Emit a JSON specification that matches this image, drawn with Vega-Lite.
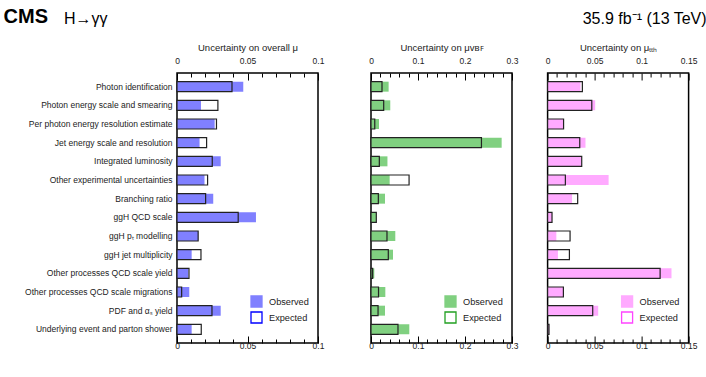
{
  "$schema": "https://vega.github.io/schema/vega-lite/v6.json",
  "padding": {"left": 2, "top": 6, "right": 4, "bottom": 4},
  "config": {
    "font": "Liberation Sans",
    "view": {"stroke": "#000", "strokeWidth": 1.5},
    "axis": {"domain": false, "labelFont": "Liberation Sans", "titleFont": "Liberation Sans", "labelColor": "#222", "titleColor": "#222", "labelFontSize": 8.5, "titleFontSize": 9.5, "titleFontWeight": "normal", "tickColor": "#000", "tickWidth": 1, "grid": false},
    "legend": {"labelFont": "Liberation Sans", "labelFontSize": 9.2, "labelColor": "#222"}
  },
  "datasets": {
    "unc": [
      {"cat": "Photon identification", "panel": "overall", "type": "Observed", "value": 0.047},
      {"cat": "Photon energy scale and smearing", "panel": "overall", "type": "Observed", "value": 0.017},
      {"cat": "Per photon energy resolution estimate", "panel": "overall", "type": "Observed", "value": 0.0267},
      {"cat": "Jet energy scale and resolution", "panel": "overall", "type": "Observed", "value": 0.016},
      {"cat": "Integrated luminosity", "panel": "overall", "type": "Observed", "value": 0.031},
      {"cat": "Other experimental uncertainties", "panel": "overall", "type": "Observed", "value": 0.0195},
      {"cat": "Branching ratio", "panel": "overall", "type": "Observed", "value": 0.0257},
      {"cat": "ggH QCD scale", "panel": "overall", "type": "Observed", "value": 0.056},
      {"cat": "ggH pₜ modelling", "panel": "overall", "type": "Observed", "value": 0.015},
      {"cat": "ggH jet multiplicity", "panel": "overall", "type": "Observed", "value": 0.0104},
      {"cat": "Other processes QCD scale yield", "panel": "overall", "type": "Observed", "value": 0.008},
      {"cat": "Other processes QCD scale migrations", "panel": "overall", "type": "Observed", "value": 0.0087},
      {"cat": "PDF and αₛ yield", "panel": "overall", "type": "Observed", "value": 0.031},
      {"cat": "Underlying event and parton shower", "panel": "overall", "type": "Observed", "value": 0.0104},
      {"cat": "Photon identification", "panel": "overall", "type": "Expected", "value": 0.039},
      {"cat": "Photon energy scale and smearing", "panel": "overall", "type": "Expected", "value": 0.029},
      {"cat": "Per photon energy resolution estimate", "panel": "overall", "type": "Expected", "value": 0.028},
      {"cat": "Jet energy scale and resolution", "panel": "overall", "type": "Expected", "value": 0.021},
      {"cat": "Integrated luminosity", "panel": "overall", "type": "Expected", "value": 0.025},
      {"cat": "Other experimental uncertainties", "panel": "overall", "type": "Expected", "value": 0.0217},
      {"cat": "Branching ratio", "panel": "overall", "type": "Expected", "value": 0.0203},
      {"cat": "ggH QCD scale", "panel": "overall", "type": "Expected", "value": 0.0434},
      {"cat": "ggH pₜ modelling", "panel": "overall", "type": "Expected", "value": 0.015},
      {"cat": "ggH jet multiplicity", "panel": "overall", "type": "Expected", "value": 0.017},
      {"cat": "Other processes QCD scale yield", "panel": "overall", "type": "Expected", "value": 0.0085},
      {"cat": "Other processes QCD scale migrations", "panel": "overall", "type": "Expected", "value": 0.0033},
      {"cat": "PDF and αₛ yield", "panel": "overall", "type": "Expected", "value": 0.0248},
      {"cat": "Underlying event and parton shower", "panel": "overall", "type": "Expected", "value": 0.0172},
      {"cat": "Photon identification", "panel": "VBF", "type": "Observed", "value": 0.0375},
      {"cat": "Photon energy scale and smearing", "panel": "VBF", "type": "Observed", "value": 0.041},
      {"cat": "Per photon energy resolution estimate", "panel": "VBF", "type": "Observed", "value": 0.017},
      {"cat": "Jet energy scale and resolution", "panel": "VBF", "type": "Observed", "value": 0.278},
      {"cat": "Integrated luminosity", "panel": "VBF", "type": "Observed", "value": 0.035},
      {"cat": "Other experimental uncertainties", "panel": "VBF", "type": "Observed", "value": 0.0397},
      {"cat": "Branching ratio", "panel": "VBF", "type": "Observed", "value": 0.0298},
      {"cat": "ggH QCD scale", "panel": "VBF", "type": "Observed", "value": 0.0113},
      {"cat": "ggH pₜ modelling", "panel": "VBF", "type": "Observed", "value": 0.0517},
      {"cat": "ggH jet multiplicity", "panel": "VBF", "type": "Observed", "value": 0.0468},
      {"cat": "Other processes QCD scale yield", "panel": "VBF", "type": "Observed", "value": 0.007},
      {"cat": "Other processes QCD scale migrations", "panel": "VBF", "type": "Observed", "value": 0.0305},
      {"cat": "PDF and αₛ yield", "panel": "VBF", "type": "Observed", "value": 0.0298},
      {"cat": "Underlying event and parton shower", "panel": "VBF", "type": "Observed", "value": 0.0815},
      {"cat": "Photon identification", "panel": "VBF", "type": "Expected", "value": 0.0234},
      {"cat": "Photon energy scale and smearing", "panel": "VBF", "type": "Expected", "value": 0.027},
      {"cat": "Per photon energy resolution estimate", "panel": "VBF", "type": "Expected", "value": 0.008},
      {"cat": "Jet energy scale and resolution", "panel": "VBF", "type": "Expected", "value": 0.235},
      {"cat": "Integrated luminosity", "panel": "VBF", "type": "Expected", "value": 0.0177},
      {"cat": "Other experimental uncertainties", "panel": "VBF", "type": "Expected", "value": 0.081},
      {"cat": "Branching ratio", "panel": "VBF", "type": "Expected", "value": 0.0156},
      {"cat": "ggH QCD scale", "panel": "VBF", "type": "Expected", "value": 0.0113},
      {"cat": "ggH pₜ modelling", "panel": "VBF", "type": "Expected", "value": 0.034},
      {"cat": "ggH jet multiplicity", "panel": "VBF", "type": "Expected", "value": 0.0368},
      {"cat": "Other processes QCD scale yield", "panel": "VBF", "type": "Expected", "value": 0.0035},
      {"cat": "Other processes QCD scale migrations", "panel": "VBF", "type": "Expected", "value": 0.016},
      {"cat": "PDF and αₛ yield", "panel": "VBF", "type": "Expected", "value": 0.015},
      {"cat": "Underlying event and parton shower", "panel": "VBF", "type": "Expected", "value": 0.0574},
      {"cat": "Photon identification", "panel": "ttH", "type": "Observed", "value": 0.035},
      {"cat": "Photon energy scale and smearing", "panel": "ttH", "type": "Observed", "value": 0.0506},
      {"cat": "Per photon energy resolution estimate", "panel": "ttH", "type": "Observed", "value": 0.0164},
      {"cat": "Jet energy scale and resolution", "panel": "ttH", "type": "Observed", "value": 0.0403},
      {"cat": "Integrated luminosity", "panel": "ttH", "type": "Observed", "value": 0.0357},
      {"cat": "Other experimental uncertainties", "panel": "ttH", "type": "Observed", "value": 0.0649},
      {"cat": "Branching ratio", "panel": "ttH", "type": "Observed", "value": 0.026},
      {"cat": "ggH QCD scale", "panel": "ttH", "type": "Observed", "value": 0.0047},
      {"cat": "ggH pₜ modelling", "panel": "ttH", "type": "Observed", "value": 0.0093},
      {"cat": "ggH jet multiplicity", "panel": "ttH", "type": "Observed", "value": 0.011},
      {"cat": "Other processes QCD scale yield", "panel": "ttH", "type": "Observed", "value": 0.1318},
      {"cat": "Other processes QCD scale migrations", "panel": "ttH", "type": "Observed", "value": 0.0168},
      {"cat": "PDF and αₛ yield", "panel": "ttH", "type": "Observed", "value": 0.0538},
      {"cat": "Underlying event and parton shower", "panel": "ttH", "type": "Observed", "value": 0.0015},
      {"cat": "Photon identification", "panel": "ttH", "type": "Expected", "value": 0.037},
      {"cat": "Photon energy scale and smearing", "panel": "ttH", "type": "Expected", "value": 0.047},
      {"cat": "Per photon energy resolution estimate", "panel": "ttH", "type": "Expected", "value": 0.017},
      {"cat": "Jet energy scale and resolution", "panel": "ttH", "type": "Expected", "value": 0.0342},
      {"cat": "Integrated luminosity", "panel": "ttH", "type": "Expected", "value": 0.0363},
      {"cat": "Other experimental uncertainties", "panel": "ttH", "type": "Expected", "value": 0.0189},
      {"cat": "Branching ratio", "panel": "ttH", "type": "Expected", "value": 0.032},
      {"cat": "ggH QCD scale", "panel": "ttH", "type": "Expected", "value": 0.0047},
      {"cat": "ggH pₜ modelling", "panel": "ttH", "type": "Expected", "value": 0.0239},
      {"cat": "ggH jet multiplicity", "panel": "ttH", "type": "Expected", "value": 0.0232},
      {"cat": "Other processes QCD scale yield", "panel": "ttH", "type": "Expected", "value": 0.1197},
      {"cat": "Other processes QCD scale migrations", "panel": "ttH", "type": "Expected", "value": 0.0168},
      {"cat": "PDF and αₛ yield", "panel": "ttH", "type": "Expected", "value": 0.048},
      {"cat": "Underlying event and parton shower", "panel": "ttH", "type": "Expected", "value": 0.0015}
    ]
  },
  "bounds": "flush",
  "spacing": 53,
  "resolve": {"scale": {"fill": "independent", "x": "independent", "y": "independent"}, "legend": {"fill": "independent"}},
  "hconcat": [
    {
      "width": 141, "height": 270,
      "data": {"name": "unc"},
      "title": {"text": "CMS", "anchor": "start", "frame": "bounds", "font": "Liberation Sans", "fontSize": 20, "fontWeight": "bold", "color": "#000", "dx": -21, "offset": 15},
      "transform": [{"filter": "datum.panel === 'overall'"}],
      "encoding": {
        "y": {"field": "cat", "type": "nominal", "title": null,
          "sort": ["Photon identification", "Photon energy scale and smearing", "Per photon energy resolution estimate", "Jet energy scale and resolution", "Integrated luminosity", "Other experimental uncertainties", "Branching ratio", "ggH QCD scale", "ggH pₜ modelling", "ggH jet multiplicity", "Other processes QCD scale yield", "Other processes QCD scale migrations", "PDF and αₛ yield", "Underlying event and parton shower"],
          "scale": {"paddingInner": 0.465, "paddingOuter": 0.465},
          "axis": {"ticks": false, "labelPadding": 5, "labelLimit": 0, "labelFontSize": 8.5}}
      },
      "layer": [
        {
          "transform": [{"filter": "datum.type === 'Observed'"}],
          "mark": {"type": "bar"},
          "encoding": {
            "x": {"field": "value", "type": "quantitative", "scale": {"domain": [0, 0.1], "nice": false, "zero": true},
              "axis": {"orient": "top", "title": "Uncertainty on overall μ", "titlePadding": 4, "values": [0,0.01,0.02,0.03,0.04,0.05,0.06,0.07,0.08,0.09,0.1],
                "labelExpr": "abs(datum.value*20 - round(datum.value*20)) < 0.001 ? format(datum.value, '~g') : ''",
                "tickSize": {"condition": {"test": "abs(datum.value*20 - round(datum.value*20)) < 0.001", "value": -7}, "value": -4},
                "labelPadding": 15, "labelFlush": false}},
            "fill": {"field": "type", "type": "nominal", "scale": {"domain": ["Observed", "Expected"], "range": ["#8080ff", "transparent"]},
              "legend": {"title": null, "orient": "none", "legendX": 73, "legendY": 222, "padding": 0, "symbolType": "square", "symbolSize": 121, "rowPadding": -1, "labelOffset": 6, "symbolStrokeWidth": 1.3,
                "encode": {"symbols": {"update": {"stroke": [{"test": "datum.value === 'Observed'", "value": "#8080ff"}, {"value": "#0000ff"}], "strokeWidth": {"value": 1.3}}}}}}
          }
        },
        {
          "transform": [{"filter": "datum.type === 'Expected'"}],
          "mark": {"type": "bar", "stroke": "#222", "strokeWidth": 1.2},
          "encoding": {
            "x": {"field": "value", "type": "quantitative",
              "axis": {"orient": "bottom", "title": null, "values": [0,0.01,0.02,0.03,0.04,0.05,0.06,0.07,0.08,0.09,0.1],
                "labelExpr": "abs(datum.value*20 - round(datum.value*20)) < 0.001 ? format(datum.value, '~g') : ''",
                "tickSize": {"condition": {"test": "abs(datum.value*20 - round(datum.value*20)) < 0.001", "value": -7}, "value": -4},
                "labelPadding": 5, "labelFlush": false}},
            "fill": {"field": "type", "type": "nominal"}
          }
        }
      ]
    },
    {
      "bounds": "flush",
      "spacing": 35.6,
      "resolve": {"scale": {"fill": "independent", "x": "independent", "y": "independent"}, "legend": {"fill": "independent"}},
      "hconcat": [
        {
          "width": 141, "height": 270,
          "data": {"name": "unc"},
          "title": {"text": "H→γγ", "anchor": "start", "frame": "group", "font": "Liberation Sans", "fontSize": 16, "fontWeight": "normal", "color": "#000", "dx": -307, "offset": 15},
          "transform": [{"filter": "datum.panel === 'VBF'"}],
          "encoding": {
            "y": {"field": "cat", "type": "nominal", "title": null,
              "sort": ["Photon identification", "Photon energy scale and smearing", "Per photon energy resolution estimate", "Jet energy scale and resolution", "Integrated luminosity", "Other experimental uncertainties", "Branching ratio", "ggH QCD scale", "ggH pₜ modelling", "ggH jet multiplicity", "Other processes QCD scale yield", "Other processes QCD scale migrations", "PDF and αₛ yield", "Underlying event and parton shower"],
              "scale": {"paddingInner": 0.465, "paddingOuter": 0.465},
              "axis": null}
          },
          "layer": [
            {
              "transform": [{"filter": "datum.type === 'Observed'"}],
              "mark": {"type": "bar"},
              "encoding": {
                "x": {"field": "value", "type": "quantitative", "scale": {"domain": [0, 0.3], "nice": false, "zero": true},
                  "axis": {"orient": "top", "title": "Uncertainty on μᴠʙꜰ", "titlePadding": 4, "values": [0,0.02,0.04,0.06,0.08,0.1,0.12,0.14,0.16,0.18,0.2,0.22,0.24,0.26,0.28,0.3],
                    "labelExpr": "abs(datum.value*10 - round(datum.value*10)) < 0.001 ? format(datum.value, '~g') : ''",
                    "tickSize": {"condition": {"test": "abs(datum.value*10 - round(datum.value*10)) < 0.001", "value": -7}, "value": -4},
                    "labelPadding": 15, "labelFlush": false}},
                "fill": {"field": "type", "type": "nominal", "scale": {"domain": ["Observed", "Expected"], "range": ["#80d080", "transparent"]},
                  "legend": {"title": null, "orient": "none", "legendX": 73, "legendY": 222, "padding": 0, "symbolType": "square", "symbolSize": 121, "rowPadding": -1, "labelOffset": 6, "symbolStrokeWidth": 1.3,
                    "encode": {"symbols": {"update": {"stroke": [{"test": "datum.value === 'Observed'", "value": "#80d080"}, {"value": "#22a022"}], "strokeWidth": {"value": 1.3}}}}}}
              }
            },
            {
              "transform": [{"filter": "datum.type === 'Expected'"}],
              "mark": {"type": "bar", "stroke": "#222", "strokeWidth": 1.2},
              "encoding": {
                "x": {"field": "value", "type": "quantitative",
                  "axis": {"orient": "bottom", "title": null, "values": [0,0.02,0.04,0.06,0.08,0.1,0.12,0.14,0.16,0.18,0.2,0.22,0.24,0.26,0.28,0.3],
                    "labelExpr": "abs(datum.value*10 - round(datum.value*10)) < 0.001 ? format(datum.value, '~g') : ''",
                    "tickSize": {"condition": {"test": "abs(datum.value*10 - round(datum.value*10)) < 0.001", "value": -7}, "value": -4},
                    "labelPadding": 5, "labelFlush": false}},
                "fill": {"field": "type", "type": "nominal"}
              }
            }
          ]
        },
        {
          "width": 141, "height": 270,
          "data": {"name": "unc"},
          "title": {"text": "35.9 fb⁻¹ (13 TeV)", "anchor": "end", "frame": "group", "font": "Liberation Sans", "fontSize": 16, "fontWeight": "normal", "color": "#000", "dx": 18, "offset": 15},
          "transform": [{"filter": "datum.panel === 'ttH'"}],
          "encoding": {
            "y": {"field": "cat", "type": "nominal", "title": null,
              "sort": ["Photon identification", "Photon energy scale and smearing", "Per photon energy resolution estimate", "Jet energy scale and resolution", "Integrated luminosity", "Other experimental uncertainties", "Branching ratio", "ggH QCD scale", "ggH pₜ modelling", "ggH jet multiplicity", "Other processes QCD scale yield", "Other processes QCD scale migrations", "PDF and αₛ yield", "Underlying event and parton shower"],
              "scale": {"paddingInner": 0.465, "paddingOuter": 0.465},
              "axis": null}
          },
          "layer": [
            {
              "transform": [{"filter": "datum.type === 'Observed'"}],
              "mark": {"type": "bar"},
              "encoding": {
                "x": {"field": "value", "type": "quantitative", "scale": {"domain": [0, 0.15], "nice": false, "zero": true},
                  "axis": {"orient": "top", "title": "Uncertainty on μₜₜₕ", "titlePadding": 4, "values": [0,0.01,0.02,0.03,0.04,0.05,0.06,0.07,0.08,0.09,0.1,0.11,0.12,0.13,0.14,0.15],
                    "labelExpr": "abs(datum.value*20 - round(datum.value*20)) < 0.001 ? format(datum.value, '~g') : ''",
                    "tickSize": {"condition": {"test": "abs(datum.value*20 - round(datum.value*20)) < 0.001", "value": -7}, "value": -4},
                    "labelPadding": 15, "labelFlush": false}},
                "fill": {"field": "type", "type": "nominal", "scale": {"domain": ["Observed", "Expected"], "range": ["#ffaaff", "transparent"]},
                  "legend": {"title": null, "orient": "none", "legendX": 73, "legendY": 222, "padding": 0, "symbolType": "square", "symbolSize": 121, "rowPadding": -1, "labelOffset": 6, "symbolStrokeWidth": 1.3,
                    "encode": {"symbols": {"update": {"stroke": [{"test": "datum.value === 'Observed'", "value": "#ffaaff"}, {"value": "#ff44ff"}], "strokeWidth": {"value": 1.3}}}}}}
              }
            },
            {
              "transform": [{"filter": "datum.type === 'Expected'"}],
              "mark": {"type": "bar", "stroke": "#222", "strokeWidth": 1.2},
              "encoding": {
                "x": {"field": "value", "type": "quantitative",
                  "axis": {"orient": "bottom", "title": null, "values": [0,0.01,0.02,0.03,0.04,0.05,0.06,0.07,0.08,0.09,0.1,0.11,0.12,0.13,0.14,0.15],
                    "labelExpr": "abs(datum.value*20 - round(datum.value*20)) < 0.001 ? format(datum.value, '~g') : ''",
                    "tickSize": {"condition": {"test": "abs(datum.value*20 - round(datum.value*20)) < 0.001", "value": -7}, "value": -4},
                    "labelPadding": 5, "labelFlush": false}},
                "fill": {"field": "type", "type": "nominal"}
              }
            }
          ]
        }
      ]
    }
  ]
}
